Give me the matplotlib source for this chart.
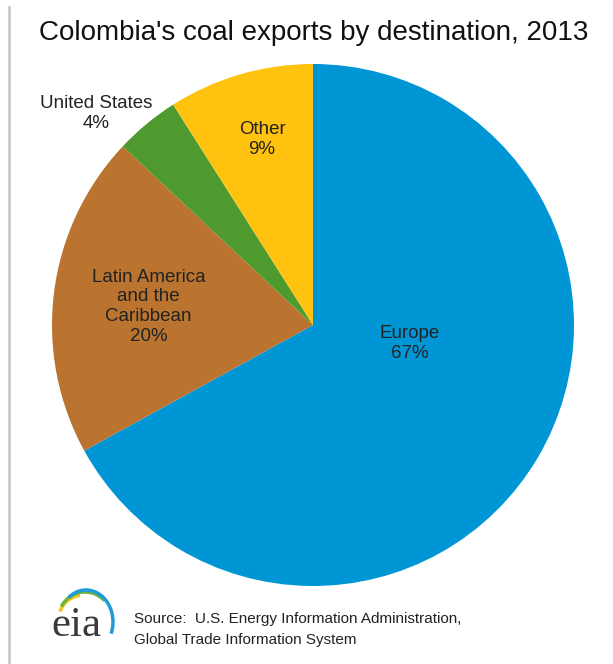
import matplotlib
matplotlib.use('Agg')
import matplotlib.pyplot as plt
from matplotlib.patches import Arc
from matplotlib.lines import Line2D

# Data
regions = ['Europe', 'Latin America\nand the\nCaribbean', 'United States', 'Other']
shares = [67, 20, 4, 9]
colors = ['#0096D6', '#BA7430', '#4E9A2F', '#FFC20E']

# label positions (axes data units, pie radius = 1)
label_pos = [(0.37, -0.07), (-0.63, 0.07), (-0.83, 0.81), (-0.195, 0.71)]

W, H = 613, 664
fig = plt.figure(figsize=(W / 100, H / 100), dpi=100)
plt.rcParams['font.family'] = ['Liberation Sans', 'DejaVu Sans']

# Pie placed in pixels: center (313, 325), radius 261
cx, cy, r = 313, 325, 261
ax = fig.add_axes([(cx - r) / W, (H - cy - r) / H, 2 * r / W, 2 * r / H])
ax.pie(shares, colors=colors, startangle=90, counterclock=False, radius=1,
       wedgeprops=dict(linewidth=0))
ax.set_xlim(-1, 1)
ax.set_ylim(-1, 1)
ax.axis('off')

for name, val, (x, y) in zip(regions, shares, label_pos):
    ax.text(x, y, '%s\n%d%%' % (name, val), ha='center', va='center',
            fontsize=13.5, color='#222222', linespacing=1.2)

# Title
fig.text(314 / W, 1 - 33 / H, "Colombia's coal exports by destination, 2013",
         ha='center', va='center', fontsize=20, color='#111111')

# Left grey border line
fig.add_artist(Line2D([8.5 / W, 8.5 / W], [0, 1 - 7 / H], transform=fig.transFigure,
                      color='#c8c8c8', linewidth=2))

# Source
fig.text(134 / W, 1 - 619 / H, 'Source:  U.S. Energy Information Administration,',
         ha='left', va='center', fontsize=11, color='#222222')
fig.text(134 / W, 1 - 640 / H, 'Global Trade Information System',
         ha='left', va='center', fontsize=11, color='#222222')

# eia logo
fig.text(76 / W, 1 - 626 / H, 'eia', ha='center', va='center', fontsize=31,
         family=['Liberation Serif', 'DejaVu Serif'], color='#3a3a3a')
# logo axes covers pixels x 40..120, y 580..660 (y flipped)
lax = fig.add_axes([40 / W, 1 - 660 / H, 80 / W, 80 / H])
lax.set_xlim(0, 80)
lax.set_ylim(0, 80)
lax.axis('off')
lax.add_patch(Arc((44, 42), 50, 46, theta1=100, theta2=165, color='#f0c419', lw=2.5))
lax.add_patch(Arc((45, 40), 54, 56, theta1=45, theta2=150, color='#6cb33f', lw=2.5))
lax.add_patch(Arc((46, 38), 54, 64, theta1=-25, theta2=125, color='#1d9bd7', lw=2.5))

fig.savefig('out.png', dpi=100, facecolor='white')
